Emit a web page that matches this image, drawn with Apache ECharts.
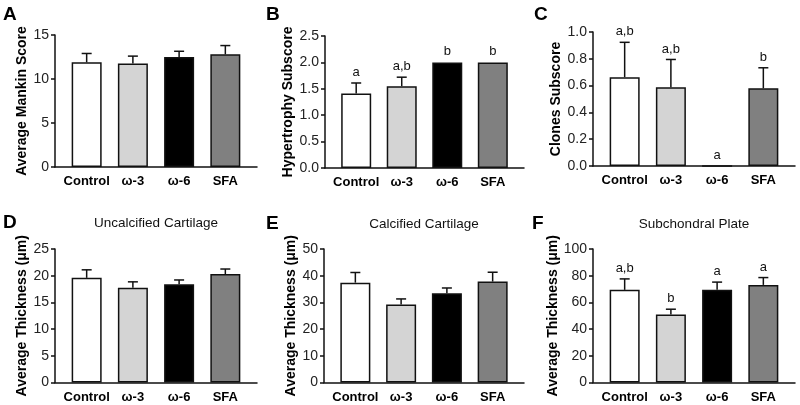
<!DOCTYPE html>
<html>
<head>
<meta charset="utf-8">
<script src="https://cdn.jsdelivr.net/npm/echarts@6/dist/echarts.min.js"></script>
<style>html,body{margin:0;padding:0;background:#fff;}#chart{width:800px;height:405px;}</style>
</head>
<body>
<div id="chart"></div>
<script>
const categories = ['Control', 'ω-3', 'ω-6', 'SFA'];

const mankinMean = [11.9, 11.75, 12.5, 12.8];
const mankinSem = [1.0, 0.85, 0.65, 1.0];

const hypertrophyMean = [1.41, 1.55, 2.0, 2.0];
const hypertrophySem = [0.2, 0.17, 0, 0];
const hypertrophyLetters = ['a', 'a,b', 'b', 'b'];

const clonesMean = [0.663, 0.588, 0, 0.58];
const clonesSem = [0.26, 0.207, 0, 0.153];
const clonesLetters = ['a,b', 'a,b', 'a', 'b'];

const uncalcMean = [19.6, 17.75, 18.4, 20.3];
const uncalcSem = [1.5, 1.1, 0.8, 0.95];

const calcMean = [37.4, 29.2, 33.4, 37.8];
const calcSem = [3.8, 2.1, 2.0, 3.5];

const subchMean = [69.4, 50.9, 69.4, 73.1];
const subchSem = [8.2, 4.0, 5.8, 5.5];
const subchLetters = ['a,b', 'b', 'a', 'a'];

const yTicksA = {max: 15, interval: 5, dec: 0};
const yTicksB = {max: 2.5, interval: 0.5, dec: 1};
const yTicksC = {max: 1.0, interval: 0.2, dec: 1};
const yTicksD = {max: 25, interval: 5, dec: 0};
const yTicksE = {max: 50, interval: 10, dec: 0};
const yTicksF = {max: 100, interval: 20, dec: 0};

const FONT = "'Liberation Sans', Arial, sans-serif";
const barColors = ['#ffffff', '#d4d4d4', '#000000', '#808080'];
const INK = '#111';

const panels = [
  {letter: 'A', mean: mankinMean, sem: mankinSem, letters: null, ticks: yTicksA, name: 'Average Mankin Score', sub: null,
   grid: {left: 55, top: 35, width: 202, height: 132}, nameGap: 25, lx: 10, ly: 15},
  {letter: 'B', mean: hypertrophyMean, sem: hypertrophySem, letters: hypertrophyLetters, ticks: yTicksB, name: 'Hypertrophy Subscore', sub: null,
   grid: {left: 325, top: 36, width: 199, height: 132}, nameGap: 26, lx: 273, ly: 15},
  {letter: 'C', mean: clonesMean, sem: clonesSem, letters: clonesLetters, ticks: yTicksC, name: 'Clones Subscore', sub: null,
   grid: {left: 593, top: 32, width: 202, height: 134}, nameGap: 28, lx: 541, ly: 15},
  {letter: 'D', mean: uncalcMean, sem: uncalcSem, letters: null, ticks: yTicksD, name: 'Average Thickness (μm)', sub: 'Uncalcified Cartilage',
   grid: {left: 55, top: 249, width: 202, height: 133.5}, nameGap: 24, lx: 10, ly: 223},
  {letter: 'E', mean: calcMean, sem: calcSem, letters: null, ticks: yTicksE, name: 'Average Thickness (μm)', sub: 'Calcified Cartilage',
   grid: {left: 324, top: 249, width: 200, height: 133.5}, nameGap: 19, lx: 273, ly: 224},
  {letter: 'F', mean: subchMean, sem: subchSem, letters: subchLetters, ticks: yTicksF, name: 'Average Thickness (μm)', sub: 'Subchondral Plate',
   grid: {left: 593, top: 249, width: 202, height: 133.5}, nameGap: 22, lx: 539, ly: 224}
];

const PAD = 0.185; // extra room beyond half a band at each end of the x axis

const grids = [], xAxes = [], yAxes = [], series = [], graphics = [];

panels.forEach((p, i) => {
  grids.push(Object.assign({containLabel: false}, p.grid));
  xAxes.push({
    type: 'value', gridIndex: i, min: -0.5 - PAD, max: categories.length - 0.5 + PAD,
    splitLine: {show: false},
    axisTick: {show: false},
    axisLine: {show: true, onZero: false, lineStyle: {color: INK, width: 1.5}},
    axisLabel: {
      customValues: categories.map((c, k) => k),
      formatter: v => categories[Math.round(v)] || '',
      fontFamily: FONT, fontSize: 13, fontWeight: 'bold', color: '#000', margin: 8
    }
  });
  yAxes.push({
    type: 'value', gridIndex: i, min: 0, max: p.ticks.max, interval: p.ticks.interval,
    splitLine: {show: false},
    axisLine: {show: true, onZero: false, lineStyle: {color: INK, width: 1.5}},
    axisTick: {show: true, length: 4, lineStyle: {color: INK, width: 1.5}},
    axisLabel: {
      formatter: v => v.toFixed(p.ticks.dec),
      fontFamily: FONT, fontSize: 14, color: '#222', margin: 6
    },
    name: p.name, nameLocation: 'middle', nameGap: p.nameGap,
    nameTextStyle: {fontFamily: FONT, fontSize: 14, fontWeight: 'bold', color: '#000'}
  });
  series.push({
    type: 'bar', xAxisIndex: i, yAxisIndex: i, barWidth: 30,
    data: p.mean.map((m, k) => ({
      value: [k, m],
      itemStyle: {color: barColors[k], borderColor: INK, borderWidth: 1.5}
    })),
    animation: false, z: 2
  });
  const letters = p.letters;
  series.push({
    type: 'custom', xAxisIndex: i, yAxisIndex: i, z: 3, animation: false, clip: false,
    data: p.mean.map((m, k) => [k, m, p.sem[k]]),
    renderItem: (params, api) => {
      const x = api.value(0), m = api.value(1), e = api.value(2);
      const base = api.coord([x, m]);
      const top = api.coord([x, m + e]);
      const children = [];
      if (e > 0) {
        children.push({type: 'line', shape: {x1: base[0], y1: base[1], x2: top[0], y2: top[1]},
          style: {stroke: INK, lineWidth: 1.5}});
        children.push({type: 'line', shape: {x1: top[0] - 5, y1: top[1], x2: top[0] + 5, y2: top[1]},
          style: {stroke: INK, lineWidth: 1.5}});
      }
      if (letters && letters[params.dataIndex]) {
        children.push({type: 'text', x: top[0], y: top[1] - 4,
          style: {text: letters[params.dataIndex], textAlign: 'center', textVerticalAlign: 'bottom',
            fontFamily: FONT, fontSize: 13, fill: '#111'}});
      }
      return {type: 'group', children};
    }
  });
  graphics.push({type: 'text', left: p.lx - 7, top: p.ly - 10,
    style: {text: p.letter, fontFamily: FONT, fontSize: 19, fontWeight: 'bold', fill: '#000'}});
  if (p.sub) {
    graphics.push({type: 'text', x: p.grid.left + p.grid.width / 2, y: p.ly,
      style: {text: p.sub, fontFamily: FONT, fontSize: 13.5, fill: '#111', textAlign: 'center', textVerticalAlign: 'middle'}});
  }
});

const chart = echarts.init(document.getElementById('chart'), null, {renderer: 'canvas'});
chart.setOption({
  backgroundColor: '#fff',
  animation: false,
  grid: grids, xAxis: xAxes, yAxis: yAxes, series: series,
  graphic: graphics
});
</script>
</body>
</html>
